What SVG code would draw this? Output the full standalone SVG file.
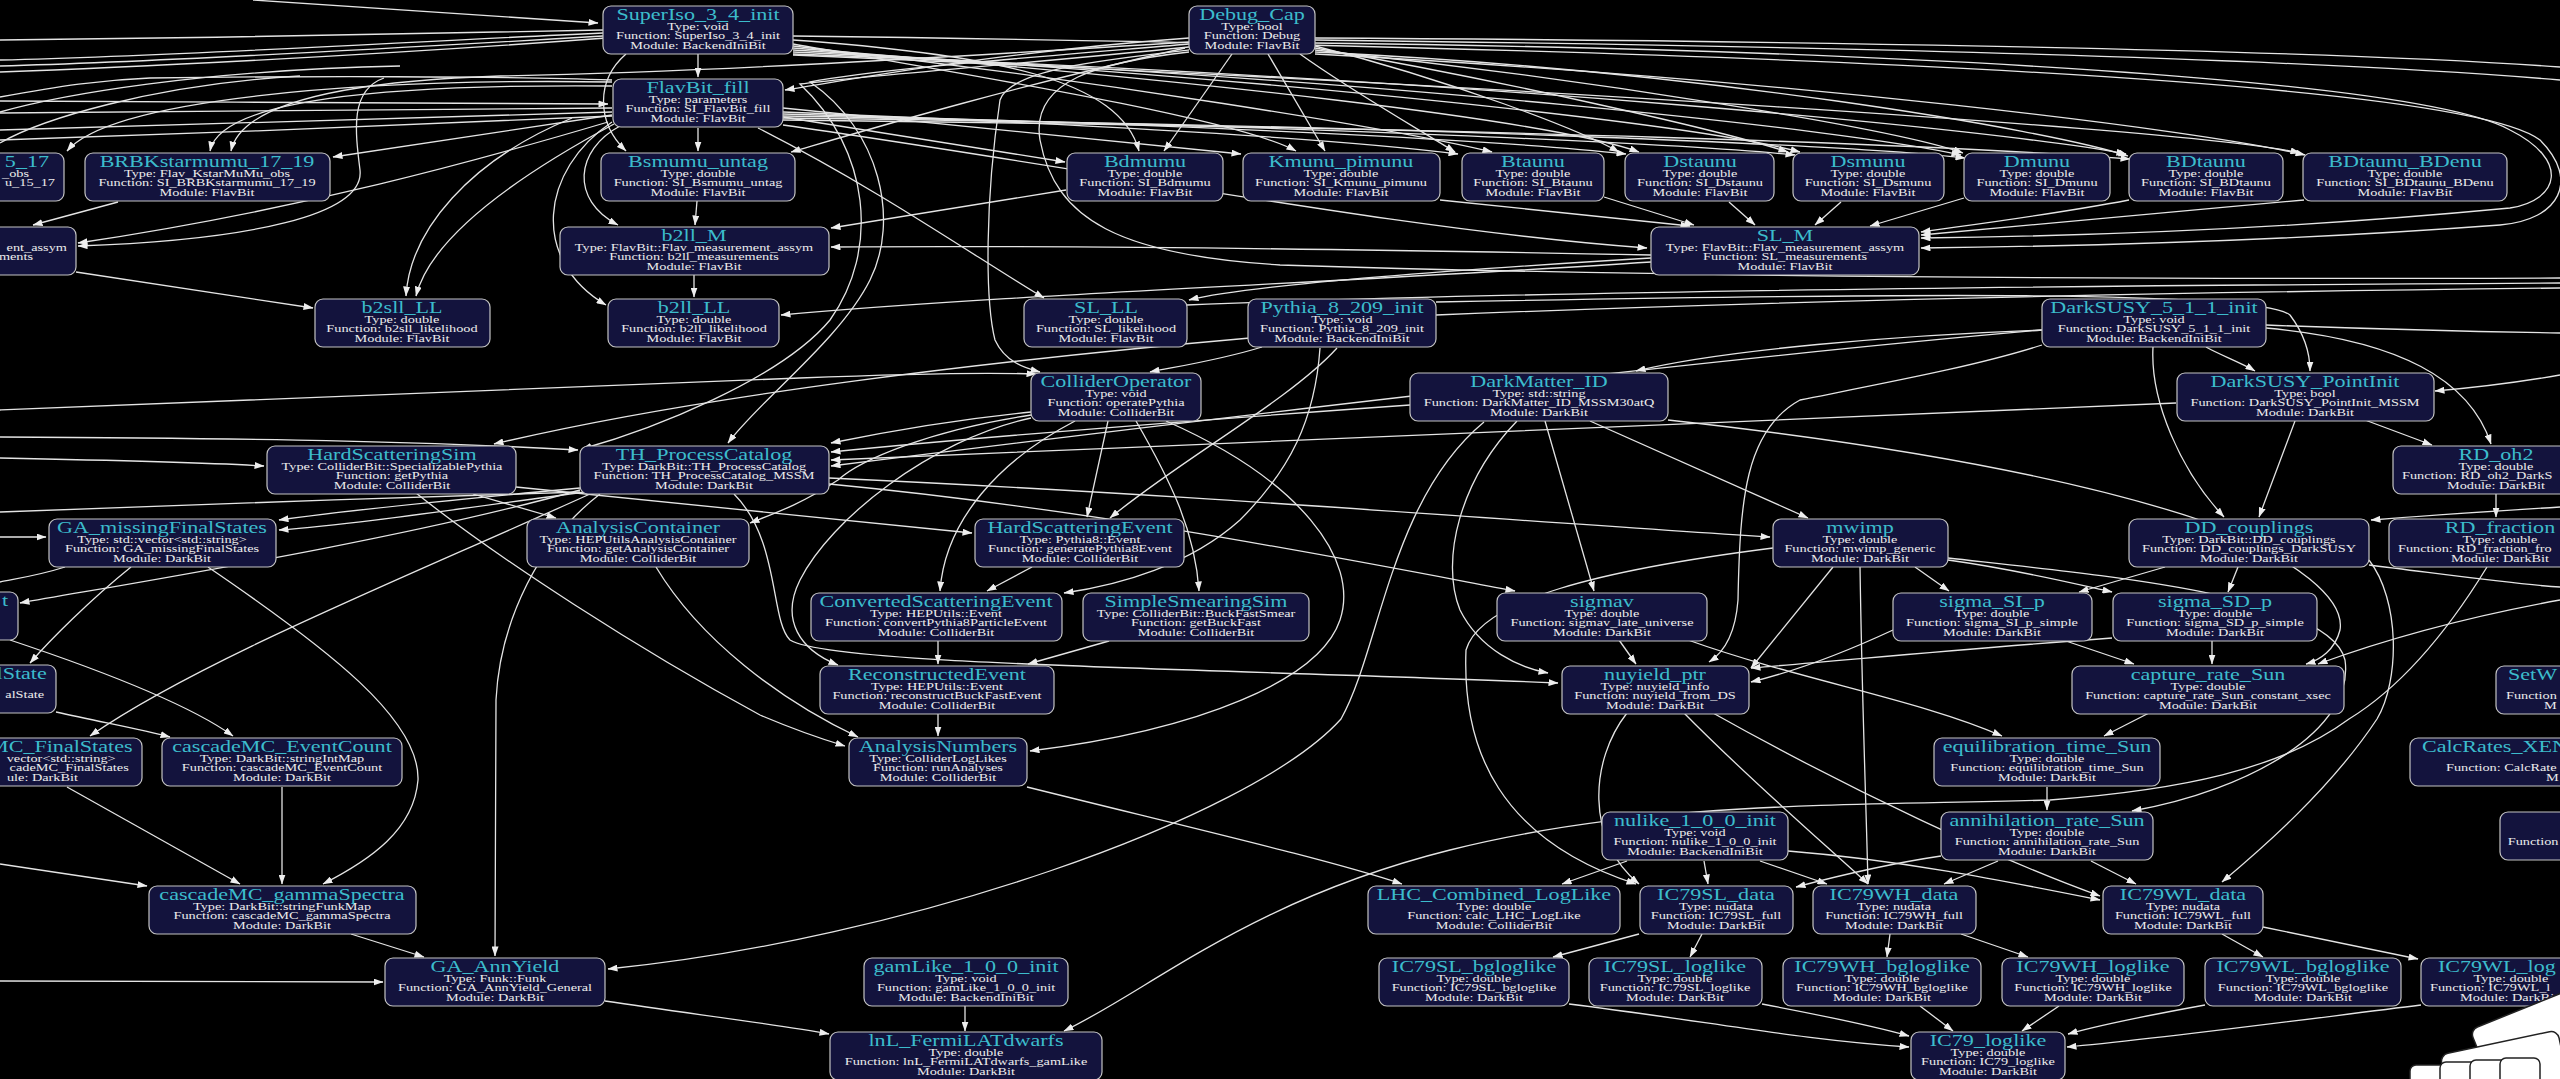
<svg xmlns="http://www.w3.org/2000/svg" width="2560" height="1079" viewBox="0 0 2560 1079">
<defs>
<marker id="a" viewBox="0 0 10 7" refX="9.5" refY="3.5" markerWidth="10" markerHeight="7" markerUnits="userSpaceOnUse" orient="auto"><path d="M0,0L10,3.5L0,7z" fill="#eeeeee"/></marker>
</defs>
<style>
.n rect{fill:#13133d;stroke:#c4c4c4;stroke-width:1.2}
.n text{font-family:"Liberation Serif","Times New Roman",serif;font-size:11px;fill:#ececec;text-anchor:middle}
.n text.t{font-size:17px;fill:#3cbccc}
.n text.s{text-anchor:start}
.n text.d{text-anchor:end}
.e{fill:none;stroke:#e4e4e4;stroke-width:1.3;marker-end:url(#a)}
.l{fill:none;stroke:#e4e4e4;stroke-width:1.3}
</style>
<rect width="2560" height="1079" fill="#000"/>
<g id="edges">
<path class="e" d="M253,0 L598,23"/>
<path class="l" d="M603,30 C420,34 200,38 0,40"/>
<path class="l" d="M603,33 C400,42 200,55 0,60"/>
<path class="l" d="M603,36 C400,48 150,62 0,66"/>
<path class="l" d="M606,38 C380,55 120,68 0,72"/>
<path class="e" d="M0,101 C200,102 420,103 608,104"/>
<path class="l" d="M612,108 C400,110 200,112 0,113"/>
<path class="l" d="M612,112 C400,118 200,126 0,130"/>
<path class="l" d="M612,116 C420,124 200,134 0,140"/>
<path class="e" d="M612,82 C350,78 110,100 67,151"/>
<path class="e" d="M612,86 C380,84 220,100 210,151"/>
<path class="e" d="M1189,42 C900,60 700,72 500,76 C320,82 240,110 231,151"/>
<path class="l" d="M0,97 C60,86 100,80 150,78 C300,76 500,76 612,80"/>
<path class="l" d="M300,76 C150,85 40,120 0,143"/>
<path class="l" d="M400,66 C200,70 60,95 0,112"/>
<path class="e" d="M612,115 L333,157"/>
<path class="e" d="M118,202 L33,225"/>
<path class="e" d="M608,122 C480,160 300,210 78,243"/>
<path class="e" d="M384,78 C350,90 355,130 360,170 C365,215 250,240 78,246"/>
<path class="e" d="M76,272 L313,308"/>
<path class="e" d="M572,118 C470,160 410,230 406,296"/>
<path class="e" d="M614,124 C510,180 430,240 416,296"/>
<path class="e" d="M626,54 C596,80 596,122 626,151"/>
<path class="e" d="M620,126 C575,150 570,200 618,225"/>
<path class="e" d="M612,122 C540,170 530,260 606,305"/>
<path class="e" d="M698,54 L698,77"/>
<path class="e" d="M698,128 L698,151"/>
<path class="e" d="M697,201 L695,225"/>
<path class="e" d="M694,274 L694,297"/>
<path class="e" d="M1189,38 C1000,52 860,78 785,90"/>
<path class="e" d="M1185,48 C1000,90 860,132 791,152"/>
<path class="e" d="M1232,54 L1164,151"/>
<path class="e" d="M793,40 C1000,55 1120,80 1139,151"/>
<path class="e" d="M783,117 L1065,162"/>
<path class="e" d="M783,108 L1241,154"/>
<path class="e" d="M1268,54 L1325,151"/>
<path class="e" d="M793,44 C1000,80 1240,120 1296,151"/>
<path class="e" d="M793,46 C1100,80 1400,130 1492,152"/>
<path class="e" d="M1300,54 C1350,90 1420,130 1455,152"/>
<path class="e" d="M783,112 C1100,125 1350,140 1458,154"/>
<path class="e" d="M793,48 C1200,80 1550,120 1639,152"/>
<path class="e" d="M1315,46 C1450,80 1580,130 1619,152"/>
<path class="e" d="M783,114 C1200,125 1500,140 1626,154"/>
<path class="e" d="M793,50 C1300,80 1700,125 1800,152"/>
<path class="e" d="M1315,48 C1500,80 1720,130 1788,152"/>
<path class="e" d="M783,116 C1300,125 1700,145 1795,155"/>
<path class="e" d="M793,52 C1400,80 1850,130 1961,155"/>
<path class="e" d="M1315,50 C1600,80 1900,130 1963,153"/>
<path class="e" d="M783,118 C1400,125 1850,145 1965,158"/>
<path class="e" d="M793,54 C1500,80 2000,130 2126,154"/>
<path class="e" d="M1315,52 C1700,70 2050,130 2128,156"/>
<path class="e" d="M783,120 C1500,128 1950,145 2130,159"/>
<path class="e" d="M793,55 C1500,85 2200,130 2300,153"/>
<path class="e" d="M1315,54 C1800,80 2200,130 2305,155"/>
<path class="l" d="M1315,38 C1700,40 2300,48 2560,67"/>
<path class="l" d="M1315,40 C1800,46 2300,58 2560,80"/>
<path class="e" d="M1315,43 C1900,50 2420,80 2510,130 C2570,160 2560,200 2510,208 C2300,228 2100,236 1921,238"/>
<path class="e" d="M793,36 C1500,45 2450,70 2540,140 C2580,180 2560,220 2500,225 C2300,240 2100,246 1921,248"/>
<path class="e" d="M1440,200 L1690,226"/>
<path class="e" d="M1604,197 L1694,225"/>
<path class="e" d="M1729,202 L1755,225"/>
<path class="e" d="M1841,202 L1815,225"/>
<path class="e" d="M1964,198 L1870,226"/>
<path class="e" d="M2129,200 C2050,215 1970,225 1921,232"/>
<path class="e" d="M2304,200 C2150,215 2000,228 1921,235"/>
<path class="e" d="M783,125 C1100,170 1400,230 1647,248"/>
<path class="e" d="M1651,258 C1450,270 1250,285 1189,300"/>
<path class="e" d="M1651,255 C1400,250 1100,245 831,247"/>
<path class="e" d="M1066,190 L831,228"/>
<path class="e" d="M1651,262 C1350,282 1000,295 781,315"/>
<path class="e" d="M758,128 C880,190 980,260 1044,298"/>
<path class="e" d="M1189,44 C1000,60 870,70 810,82 C880,130 900,220 870,280 C840,340 760,400 728,443"/>
<path class="e" d="M1189,47 C1000,66 860,76 800,84 C870,150 880,250 830,320 C780,380 650,430 582,449"/>
<path class="e" d="M1189,50 C1100,60 1010,70 1000,100 C985,200 985,300 995,340 C1005,362 1025,368 1040,372"/>
<path class="l" d="M1189,52 C1100,62 1030,80 1040,140 C1055,220 1120,255 1280,265 C1600,275 2000,280 2560,278"/>
<path class="l" d="M1436,315 C1800,300 2200,292 2560,288"/>
<path class="l" d="M1187,305 C1500,292 2000,286 2560,283"/>
<path class="e" d="M1262,347 C1220,360 1180,366 1150,372"/>
<path class="e" d="M1250,338 C1000,360 700,395 494,444"/>
<path class="e" d="M1337,348 C1290,400 1180,460 1110,518"/>
<path class="e" d="M1320,348 C1315,420 1290,470 1240,520 C1190,565 1120,585 1064,593"/>
<path class="e" d="M0,410 C300,400 600,386 800,378 C900,374 980,372 1036,374"/>
<path class="e" d="M1108,421 L1087,517"/>
<path class="e" d="M1136,421 C1170,480 1195,530 1199,591"/>
<path class="e" d="M1075,421 C1000,460 945,520 940,591"/>
<path class="e" d="M1031,415 C930,430 860,460 838,480 C800,505 770,515 750,523"/>
<path class="e" d="M1031,418 C930,440 830,520 800,580 C780,620 800,650 838,665"/>
<path class="e" d="M1166,421 C1300,480 1360,560 1340,620 C1320,680 1200,730 1030,751"/>
<path class="e" d="M1031,412 C950,420 870,435 831,443"/>
<path class="e" d="M1032,567 L987,591"/>
<path class="e" d="M938,640 L938,664"/>
<path class="e" d="M1109,641 L1028,664"/>
<path class="e" d="M938,713 L938,736"/>
<path class="e" d="M656,567 C700,640 780,700 858,737"/>
<path class="e" d="M416,493 C500,560 640,650 760,715 C800,732 825,740 845,746"/>
<path class="e" d="M473,494 L556,518"/>
<path class="e" d="M516,487 C700,505 850,522 972,533"/>
<path class="e" d="M0,458 C100,460 200,462 264,466"/>
<path class="e" d="M0,437 C200,438 400,440 578,450"/>
<path class="e" d="M1410,405 C1200,420 1000,435 831,452"/>
<path class="e" d="M2176,403 C1800,420 1300,440 831,460"/>
<path class="e" d="M2042,330 C1700,360 1200,420 831,466"/>
<path class="e" d="M829,478 C1200,495 1500,520 1770,537"/>
<path class="e" d="M829,484 C1100,510 1350,560 1515,591"/>
<path class="e" d="M734,494 C780,540 770,620 790,640 C830,665 1200,668 1558,683"/>
<path class="e" d="M600,494 C540,540 500,620 496,700 L495,956"/>
<path class="e" d="M580,488 C450,500 350,510 279,520"/>
<path class="e" d="M585,492 C450,510 350,525 279,530"/>
<path class="e" d="M580,490 C400,540 150,580 20,603"/>
<path class="l" d="M580,492 C400,498 150,505 0,512"/>
<path class="e" d="M590,494 C400,580 200,660 90,736"/>
<path class="l" d="M65,567 C40,575 20,578 0,582"/>
<path class="e" d="M131,567 C90,600 50,640 30,663"/>
<path class="e" d="M208,567 C330,650 420,720 418,780 C414,830 370,860 323,884"/>
<path class="e" d="M0,537 L46,537"/>
<path class="e" d="M10,640 C100,670 190,705 233,736"/>
<path class="e" d="M56,712 C100,722 140,729 170,737"/>
<path class="e" d="M67,787 L240,884"/>
<path class="e" d="M282,787 L282,884"/>
<path class="e" d="M0,864 L147,886"/>
<path class="e" d="M351,934 L424,957"/>
<path class="e" d="M0,981 C150,981 300,982 383,982"/>
<path class="e" d="M605,1001 C700,1015 780,1025 829,1034"/>
<path class="e" d="M965,1006 L965,1031"/>
<path class="e" d="M1484,422 C1390,500 1380,650 1341,719 C1250,820 900,940 608,969"/>
<path class="e" d="M2487,567 C2430,660 2380,700 2349,719 C2280,770 2180,790 2050,800 C1850,806 1650,800 1450,850 C1250,900 1150,990 1064,1031"/>
<path class="e" d="M2042,330 C1900,335 1720,350 1636,371"/>
<path class="e" d="M2206,347 C2220,355 2240,362 2255,371"/>
<path class="e" d="M2153,347 C2150,400 2180,470 2224,517"/>
<path class="e" d="M2266,328 C2400,340 2470,380 2491,444"/>
<path class="l" d="M2266,325 C2400,330 2500,332 2560,333"/>
<path class="e" d="M2042,345 C1980,365 1900,380 1800,400 C1745,430 1740,500 1738,600 C1735,640 1720,655 1709,662"/>
<path class="e" d="M1436,302 C1900,293 2260,290 2290,315 C2305,335 2310,355 2310,371"/>
<path class="e" d="M2560,375 C2520,382 2470,388 2435,391"/>
<path class="e" d="M2295,421 L2259,517"/>
<path class="e" d="M2365,420 L2432,445"/>
<path class="e" d="M2496,494 L2496,517"/>
<path class="e" d="M2560,507 C2480,512 2420,516 2371,520"/>
<path class="e" d="M2165,567 L2079,592"/>
<path class="e" d="M2238,567 L2228,592"/>
<path class="e" d="M1545,421 L1594,591"/>
<path class="e" d="M1590,421 L1808,518"/>
<path class="e" d="M1517,421 C1460,480 1440,560 1460,610 C1480,650 1520,668 1548,673"/>
<path class="e" d="M1668,420 C1850,440 2050,470 2200,520 C2300,560 2345,600 2340,630 C2335,650 2320,660 2306,664"/>
<path class="e" d="M1833,567 L1751,668"/>
<path class="e" d="M1915,567 L1949,591"/>
<path class="e" d="M1948,560 C2020,570 2080,585 2112,592"/>
<path class="e" d="M1860,567 C1862,700 1866,800 1868,884"/>
<path class="e" d="M1773,548 C1600,570 1480,600 1466,650 C1462,750 1500,840 1636,884"/>
<path class="e" d="M1948,558 C2100,575 2330,595 2345,660 C2355,730 2250,790 2132,811"/>
<path class="e" d="M1619,640 L1636,664"/>
<path class="e" d="M1688,640 C1800,680 1920,700 2002,736"/>
<path class="e" d="M2063,640 L2134,664"/>
<path class="e" d="M2212,640 L2212,664"/>
<path class="e" d="M2112,638 C1950,650 1850,660 1751,668"/>
<path class="e" d="M1893,630 C1850,650 1800,670 1751,682"/>
<path class="e" d="M2149,713 L2104,736"/>
<path class="e" d="M2047,787 L2047,810"/>
<path class="e" d="M1627,713 C1590,760 1585,840 1639,884"/>
<path class="e" d="M1684,713 C1750,780 1820,840 1868,884"/>
<path class="e" d="M1713,713 C1850,790 2000,860 2100,896"/>
<path class="e" d="M1704,861 L1708,884"/>
<path class="e" d="M1760,861 L1827,884"/>
<path class="e" d="M1788,851 C1900,860 2000,880 2100,900"/>
<path class="e" d="M1627,861 L1562,884"/>
<path class="e" d="M1027,787 C1200,830 1330,860 1402,884"/>
<path class="e" d="M1941,856 C1880,865 1830,878 1796,887"/>
<path class="e" d="M1998,861 L1944,884"/>
<path class="e" d="M2091,861 L2136,884"/>
<path class="e" d="M2369,560 C2400,600 2400,680 2377,719 C2330,790 2260,850 2222,882"/>
<path class="e" d="M2560,600 C2450,620 2370,645 2318,664"/>
<path class="l" d="M2369,565 C2450,575 2520,585 2560,587"/>
<path class="e" d="M1639,934 L1553,957"/>
<path class="e" d="M1702,934 L1690,957"/>
<path class="e" d="M1890,934 L1887,957"/>
<path class="e" d="M1961,934 L2028,957"/>
<path class="e" d="M2222,934 L2263,957"/>
<path class="e" d="M2263,927 L2418,959"/>
<path class="e" d="M1569,1004 C1700,1020 1800,1040 1909,1047"/>
<path class="e" d="M1762,1004 C1820,1015 1870,1025 1909,1036"/>
<path class="e" d="M1920,1006 L1953,1031"/>
<path class="e" d="M2059,1006 L2022,1031"/>
<path class="e" d="M2205,1005 C2150,1015 2100,1025 2068,1034"/>
<path class="e" d="M2421,1005 C2300,1020 2150,1040 2067,1047"/>
</g>

<g id="n_BRBK15" class="n" transform="translate(0,153)"><rect x="-181" width="245" height="48" rx="8"/><g transform="scale(1.3,1)"><text class="t d" x="37.7" y="14">5_17</text><text class="d" x="22.3" y="24">_obs</text><text class="d" x="42.3" y="33.5">u_15_17</text></g></g>
<g id="n_b2sllM" class="n" transform="translate(0,227)"><rect x="-190" width="266" height="48" rx="8"/><g transform="scale(1.3,1)"><text class="d" x="51.5" y="24">ent_assym</text><text class="d" x="25.4" y="33.5">ments</text></g></g>
<g id="n_cMCLoop" class="n" transform="translate(0,592)"><rect x="-200" width="218" height="48" rx="8"/><g transform="scale(1.3,1)"><text class="t d" x="6.2" y="14">t</text></g></g>
<g id="n_cMCInit" class="n" transform="translate(0,665)"><rect x="-160" width="216" height="48" rx="8"/><g transform="scale(1.3,1)"><text class="t d" x="36" y="14">lState</text><text class="d" x="34" y="33.5">alState</text></g></g>
<g id="n_cMCFinal" class="n" transform="translate(0,738)"><rect x="-100" width="242" height="48" rx="8"/><g transform="scale(1.3,1)"><text class="t d" x="102" y="14">MC_FinalStates</text><text class="d" x="89" y="24">vector&lt;std::string&gt;</text><text class="d" x="99" y="33.5">cadeMC_FinalStates</text><text class="d" x="60" y="43">ule: DarkBit</text></g></g>
<g id="n_SetW" class="n" transform="translate(0,666)"><rect x="2496" width="200" height="48" rx="8"/><g transform="scale(1.3,1)"><text class="t s" x="1929.2" y="14">SetW</text><text class="s" x="1927.7" y="33.5">Function</text><text class="s" x="1957" y="43">M</text></g></g>
<g id="n_CalcRates" class="n" transform="translate(0,738)"><rect x="2410" width="250" height="48" rx="8"/><g transform="scale(1.3,1)"><text class="t s" x="1863" y="14">CalcRates_XEN</text><text class="s" x="1881.5" y="33.5">Function: CalcRate</text><text class="s" x="1958.5" y="43">M</text></g></g>
<g id="n_partial" class="n" transform="translate(0,812)"><rect x="2500" width="200" height="48" rx="8"/><g transform="scale(1.3,1)"><text class="s" x="1929" y="33.5">Function</text></g></g>

<g id="n_SuperIso" class="n" transform="translate(698,6)"><rect x="-95" width="190" height="48" rx="8"/><g transform="scale(1.3,1)"><text class="t" y="14">SuperIso_3_4_init</text><text y="24">Type: void</text><text y="33.5">Function: SuperIso_3_4_init</text><text y="43">Module: BackendIniBit</text></g></g>
<g id="n_Debug" class="n" transform="translate(1252,6)"><rect x="-63" width="126" height="48" rx="8"/><g transform="scale(1.3,1)"><text class="t" y="14">Debug_Cap</text><text y="24">Type: bool</text><text y="33.5">Function: Debug</text><text y="43">Module: FlavBit</text></g></g>
<g id="n_FlavBitFill" class="n" transform="translate(698,79)"><rect x="-85" width="170" height="48" rx="8"/><g transform="scale(1.3,1)"><text class="t" y="14">FlavBit_fill</text><text y="24">Type: parameters</text><text y="33.5">Function: SI_FlavBit_fill</text><text y="43">Module: FlavBit</text></g></g>
<g id="n_BRBK1719" class="n" transform="translate(207,153)"><rect x="-122" width="245" height="48" rx="8"/><g transform="scale(1.3,1)"><text class="t" y="14">BRBKstarmumu_17_19</text><text y="24">Type: Flav_KstarMuMu_obs</text><text y="33.5">Function: SI_BRBKstarmumu_17_19</text><text y="43">Module: FlavBit</text></g></g>
<g id="n_Bsmumu" class="n" transform="translate(698,153)"><rect x="-97" width="194" height="48" rx="8"/><g transform="scale(1.3,1)"><text class="t" y="14">Bsmumu_untag</text><text y="24">Type: double</text><text y="33.5">Function: SI_Bsmumu_untag</text><text y="43">Module: FlavBit</text></g></g>
<g id="n_Bdmumu" class="n" transform="translate(1145,153)"><rect x="-78" width="156" height="48" rx="8"/><g transform="scale(1.3,1)"><text class="t" y="14">Bdmumu</text><text y="24">Type: double</text><text y="33.5">Function: SI_Bdmumu</text><text y="43">Module: FlavBit</text></g></g>
<g id="n_Kmunu" class="n" transform="translate(1341,153)"><rect x="-98" width="197" height="48" rx="8"/><g transform="scale(1.3,1)"><text class="t" y="14">Kmunu_pimunu</text><text y="24">Type: double</text><text y="33.5">Function: SI_Kmunu_pimunu</text><text y="43">Module: FlavBit</text></g></g>
<g id="n_Btaunu" class="n" transform="translate(1533,153)"><rect x="-71" width="142" height="48" rx="8"/><g transform="scale(1.3,1)"><text class="t" y="14">Btaunu</text><text y="24">Type: double</text><text y="33.5">Function: SI_Btaunu</text><text y="43">Module: FlavBit</text></g></g>
<g id="n_Dstaunu" class="n" transform="translate(1700,153)"><rect x="-75" width="149" height="48" rx="8"/><g transform="scale(1.3,1)"><text class="t" y="14">Dstaunu</text><text y="24">Type: double</text><text y="33.5">Function: SI_Dstaunu</text><text y="43">Module: FlavBit</text></g></g>
<g id="n_Dsmunu" class="n" transform="translate(1868,153)"><rect x="-75" width="151" height="48" rx="8"/><g transform="scale(1.3,1)"><text class="t" y="14">Dsmunu</text><text y="24">Type: double</text><text y="33.5">Function: SI_Dsmunu</text><text y="43">Module: FlavBit</text></g></g>
<g id="n_Dmunu" class="n" transform="translate(2037,153)"><rect x="-73" width="146" height="48" rx="8"/><g transform="scale(1.3,1)"><text class="t" y="14">Dmunu</text><text y="24">Type: double</text><text y="33.5">Function: SI_Dmunu</text><text y="43">Module: FlavBit</text></g></g>
<g id="n_BDtaunu" class="n" transform="translate(2206,153)"><rect x="-77" width="154" height="48" rx="8"/><g transform="scale(1.3,1)"><text class="t" y="14">BDtaunu</text><text y="24">Type: double</text><text y="33.5">Function: SI_BDtaunu</text><text y="43">Module: FlavBit</text></g></g>
<g id="n_BDtaunuBDenu" class="n" transform="translate(2405,153)"><rect x="-102" width="204" height="48" rx="8"/><g transform="scale(1.3,1)"><text class="t" y="14">BDtaunu_BDenu</text><text y="24">Type: double</text><text y="33.5">Function: SI_BDtaunu_BDenu</text><text y="43">Module: FlavBit</text></g></g>
<g id="n_b2llM" class="n" transform="translate(694,227)"><rect x="-134" width="269" height="48" rx="8"/><g transform="scale(1.3,1)"><text class="t" y="14">b2ll_M</text><text y="24">Type: FlavBit::Flav_measurement_assym</text><text y="33.5">Function: b2ll_measurements</text><text y="43">Module: FlavBit</text></g></g>
<g id="n_SLM" class="n" transform="translate(1785,227)"><rect x="-134" width="268" height="48" rx="8"/><g transform="scale(1.3,1)"><text class="t" y="14">SL_M</text><text y="24">Type: FlavBit::Flav_measurement_assym</text><text y="33.5">Function: SL_measurements</text><text y="43">Module: FlavBit</text></g></g>
<g id="n_b2sllLL" class="n" transform="translate(402,299)"><rect x="-87" width="175" height="48" rx="8"/><g transform="scale(1.3,1)"><text class="t" y="14">b2sll_LL</text><text y="24">Type: double</text><text y="33.5">Function: b2sll_likelihood</text><text y="43">Module: FlavBit</text></g></g>
<g id="n_b2llLL" class="n" transform="translate(694,299)"><rect x="-86" width="171" height="48" rx="8"/><g transform="scale(1.3,1)"><text class="t" y="14">b2ll_LL</text><text y="24">Type: double</text><text y="33.5">Function: b2ll_likelihood</text><text y="43">Module: FlavBit</text></g></g>
<g id="n_SLLL" class="n" transform="translate(1106,299)"><rect x="-82" width="163" height="48" rx="8"/><g transform="scale(1.3,1)"><text class="t" y="14">SL_LL</text><text y="24">Type: double</text><text y="33.5">Function: SL_likelihood</text><text y="43">Module: FlavBit</text></g></g>
<g id="n_Pythia" class="n" transform="translate(1342,299)"><rect x="-94" width="188" height="48" rx="8"/><g transform="scale(1.3,1)"><text class="t" y="14">Pythia_8_209_init</text><text y="24">Type: void</text><text y="33.5">Function: Pythia_8_209_init</text><text y="43">Module: BackendIniBit</text></g></g>
<g id="n_DarkSUSYinit" class="n" transform="translate(2154,299)"><rect x="-112" width="224" height="48" rx="8"/><g transform="scale(1.3,1)"><text class="t" y="14">DarkSUSY_5_1_1_init</text><text y="24">Type: void</text><text y="33.5">Function: DarkSUSY_5_1_1_init</text><text y="43">Module: BackendIniBit</text></g></g>
<g id="n_ColliderOperator" class="n" transform="translate(1116,373)"><rect x="-85" width="170" height="48" rx="8"/><g transform="scale(1.3,1)"><text class="t" y="14">ColliderOperator</text><text y="24">Type: void</text><text y="33.5">Function: operatePythia</text><text y="43">Module: ColliderBit</text></g></g>
<g id="n_DarkMatterID" class="n" transform="translate(1539,373)"><rect x="-129" width="258" height="48" rx="8"/><g transform="scale(1.3,1)"><text class="t" y="14">DarkMatter_ID</text><text y="24">Type: std::string</text><text y="33.5">Function: DarkMatter_ID_MSSM30atQ</text><text y="43">Module: DarkBit</text></g></g>
<g id="n_DarkSUSYPointInit" class="n" transform="translate(2305,373)"><rect x="-128" width="257" height="48" rx="8"/><g transform="scale(1.3,1)"><text class="t" y="14">DarkSUSY_PointInit</text><text y="24">Type: bool</text><text y="33.5">Function: DarkSUSY_PointInit_MSSM</text><text y="43">Module: DarkBit</text></g></g>
<g id="n_HardScatteringSim" class="n" transform="translate(392,446)"><rect x="-125" width="249" height="48" rx="8"/><g transform="scale(1.3,1)"><text class="t" y="14">HardScatteringSim</text><text y="24">Type: ColliderBit::SpecializablePythia</text><text y="33.5">Function: getPythia</text><text y="43">Module: ColliderBit</text></g></g>
<g id="n_THProcessCatalog" class="n" transform="translate(704,446)"><rect x="-124" width="249" height="48" rx="8"/><g transform="scale(1.3,1)"><text class="t" y="14">TH_ProcessCatalog</text><text y="24">Type: DarkBit::TH_ProcessCatalog</text><text y="33.5">Function: TH_ProcessCatalog_MSSM</text><text y="43">Module: DarkBit</text></g></g>
<g id="n_RDoh2" class="n" transform="translate(2496,446)"><rect x="-103" width="206" height="48" rx="8"/><g transform="scale(1.3,1)"><text class="t" y="14">RD_oh2</text><text y="24">Type: double</text><text class="s" x="-72.3" y="33.5">Function: RD_oh2_DarkS</text><text y="43">Module: DarkBit</text></g></g>
<g id="n_GAmissing" class="n" transform="translate(162,519)"><rect x="-113" width="227" height="48" rx="8"/><g transform="scale(1.3,1)"><text class="t" y="14">GA_missingFinalStates</text><text y="24">Type: std::vector&lt;std::string&gt;</text><text y="33.5">Function: GA_missingFinalStates</text><text y="43">Module: DarkBit</text></g></g>
<g id="n_AnalysisContainer" class="n" transform="translate(638,519)"><rect x="-111" width="222" height="48" rx="8"/><g transform="scale(1.3,1)"><text class="t" y="14">AnalysisContainer</text><text y="24">Type: HEPUtilsAnalysisContainer</text><text y="33.5">Function: getAnalysisContainer</text><text y="43">Module: ColliderBit</text></g></g>
<g id="n_HardScatteringEvent" class="n" transform="translate(1080,519)"><rect x="-105" width="209" height="48" rx="8"/><g transform="scale(1.3,1)"><text class="t" y="14">HardScatteringEvent</text><text y="24">Type: Pythia8::Event</text><text y="33.5">Function: generatePythia8Event</text><text y="43">Module: ColliderBit</text></g></g>
<g id="n_mwimp" class="n" transform="translate(1860,519)"><rect x="-87" width="175" height="48" rx="8"/><g transform="scale(1.3,1)"><text class="t" y="14">mwimp</text><text y="24">Type: double</text><text y="33.5">Function: mwimp_generic</text><text y="43">Module: DarkBit</text></g></g>
<g id="n_DDcouplings" class="n" transform="translate(2249,519)"><rect x="-120" width="240" height="48" rx="8"/><g transform="scale(1.3,1)"><text class="t" y="14">DD_couplings</text><text y="24">Type: DarkBit::DD_couplings</text><text y="33.5">Function: DD_couplings_DarkSUSY</text><text y="43">Module: DarkBit</text></g></g>
<g id="n_RDfraction" class="n" transform="translate(2500,519)"><rect x="-111" width="222" height="48" rx="8"/><g transform="scale(1.3,1)"><text class="t" y="14">RD_fraction</text><text y="24">Type: double</text><text class="s" x="-78.5" y="33.5">Function: RD_fraction_fro</text><text y="43">Module: DarkBit</text></g></g>
<g id="n_ConvertedScatteringEvent" class="n" transform="translate(936,593)"><rect x="-125" width="251" height="48" rx="8"/><g transform="scale(1.3,1)"><text class="t" y="14">ConvertedScatteringEvent</text><text y="24">Type: HEPUtils::Event</text><text y="33.5">Function: convertPythia8ParticleEvent</text><text y="43">Module: ColliderBit</text></g></g>
<g id="n_SimpleSmearingSim" class="n" transform="translate(1196,593)"><rect x="-113" width="226" height="48" rx="8"/><g transform="scale(1.3,1)"><text class="t" y="14">SimpleSmearingSim</text><text y="24">Type: ColliderBit::BuckFastSmear</text><text y="33.5">Function: getBuckFast</text><text y="43">Module: ColliderBit</text></g></g>
<g id="n_sigmav" class="n" transform="translate(1602,593)"><rect x="-105" width="210" height="48" rx="8"/><g transform="scale(1.3,1)"><text class="t" y="14">sigmav</text><text y="24">Type: double</text><text y="33.5">Function: sigmav_late_universe</text><text y="43">Module: DarkBit</text></g></g>
<g id="n_sigmaSIp" class="n" transform="translate(1992,593)"><rect x="-99" width="199" height="48" rx="8"/><g transform="scale(1.3,1)"><text class="t" y="14">sigma_SI_p</text><text y="24">Type: double</text><text y="33.5">Function: sigma_SI_p_simple</text><text y="43">Module: DarkBit</text></g></g>
<g id="n_sigmaSDp" class="n" transform="translate(2215,593)"><rect x="-102" width="204" height="48" rx="8"/><g transform="scale(1.3,1)"><text class="t" y="14">sigma_SD_p</text><text y="24">Type: double</text><text y="33.5">Function: sigma_SD_p_simple</text><text y="43">Module: DarkBit</text></g></g>
<g id="n_ReconstructedEvent" class="n" transform="translate(937,666)"><rect x="-117" width="234" height="48" rx="8"/><g transform="scale(1.3,1)"><text class="t" y="14">ReconstructedEvent</text><text y="24">Type: HEPUtils::Event</text><text y="33.5">Function: reconstructBuckFastEvent</text><text y="43">Module: ColliderBit</text></g></g>
<g id="n_nuyield" class="n" transform="translate(1655,666)"><rect x="-93" width="187" height="48" rx="8"/><g transform="scale(1.3,1)"><text class="t" y="14">nuyield_ptr</text><text y="24">Type: nuyield_info</text><text y="33.5">Function: nuyield_from_DS</text><text y="43">Module: DarkBit</text></g></g>
<g id="n_captureRate" class="n" transform="translate(2208,666)"><rect x="-136" width="272" height="48" rx="8"/><g transform="scale(1.3,1)"><text class="t" y="14">capture_rate_Sun</text><text y="24">Type: double</text><text y="33.5">Function: capture_rate_Sun_constant_xsec</text><text y="43">Module: DarkBit</text></g></g>
<g id="n_cMCEventCount" class="n" transform="translate(282,738)"><rect x="-120" width="240" height="48" rx="8"/><g transform="scale(1.3,1)"><text class="t" y="14">cascadeMC_EventCount</text><text y="24">Type: DarkBit::stringIntMap</text><text y="33.5">Function: cascadeMC_EventCount</text><text y="43">Module: DarkBit</text></g></g>
<g id="n_AnalysisNumbers" class="n" transform="translate(938,738)"><rect x="-89" width="178" height="48" rx="8"/><g transform="scale(1.3,1)"><text class="t" y="14">AnalysisNumbers</text><text y="24">Type: ColliderLogLikes</text><text y="33.5">Function: runAnalyses</text><text y="43">Module: ColliderBit</text></g></g>
<g id="n_equilibration" class="n" transform="translate(2047,738)"><rect x="-113" width="226" height="48" rx="8"/><g transform="scale(1.3,1)"><text class="t" y="14">equilibration_time_Sun</text><text y="24">Type: double</text><text y="33.5">Function: equilibration_time_Sun</text><text y="43">Module: DarkBit</text></g></g>
<g id="n_nulike" class="n" transform="translate(1695,812)"><rect x="-93" width="186" height="48" rx="8"/><g transform="scale(1.3,1)"><text class="t" y="14">nulike_1_0_0_init</text><text y="24">Type: void</text><text y="33.5">Function: nulike_1_0_0_init</text><text y="43">Module: BackendIniBit</text></g></g>
<g id="n_annihilation" class="n" transform="translate(2047,812)"><rect x="-106" width="212" height="48" rx="8"/><g transform="scale(1.3,1)"><text class="t" y="14">annihilation_rate_Sun</text><text y="24">Type: double</text><text y="33.5">Function: annihilation_rate_Sun</text><text y="43">Module: DarkBit</text></g></g>
<g id="n_cMCgamma" class="n" transform="translate(282,886)"><rect x="-133" width="267" height="48" rx="8"/><g transform="scale(1.3,1)"><text class="t" y="14">cascadeMC_gammaSpectra</text><text y="24">Type: DarkBit::stringFunkMap</text><text y="33.5">Function: cascadeMC_gammaSpectra</text><text y="43">Module: DarkBit</text></g></g>
<g id="n_LHC" class="n" transform="translate(1494,886)"><rect x="-126" width="252" height="48" rx="8"/><g transform="scale(1.3,1)"><text class="t" y="14">LHC_Combined_LogLike</text><text y="24">Type: double</text><text y="33.5">Function: calc_LHC_LogLike</text><text y="43">Module: ColliderBit</text></g></g>
<g id="n_IC79SLdata" class="n" transform="translate(1716,886)"><rect x="-76" width="153" height="48" rx="8"/><g transform="scale(1.3,1)"><text class="t" y="14">IC79SL_data</text><text y="24">Type: nudata</text><text y="33.5">Function: IC79SL_full</text><text y="43">Module: DarkBit</text></g></g>
<g id="n_IC79WHdata" class="n" transform="translate(1894,886)"><rect x="-81" width="163" height="48" rx="8"/><g transform="scale(1.3,1)"><text class="t" y="14">IC79WH_data</text><text y="24">Type: nudata</text><text y="33.5">Function: IC79WH_full</text><text y="43">Module: DarkBit</text></g></g>
<g id="n_IC79WLdata" class="n" transform="translate(2183,886)"><rect x="-80" width="160" height="48" rx="8"/><g transform="scale(1.3,1)"><text class="t" y="14">IC79WL_data</text><text y="24">Type: nudata</text><text y="33.5">Function: IC79WL_full</text><text y="43">Module: DarkBit</text></g></g>
<g id="n_GAAnnYield" class="n" transform="translate(495,958)"><rect x="-110" width="220" height="48" rx="8"/><g transform="scale(1.3,1)"><text class="t" y="14">GA_AnnYield</text><text y="24">Type: Funk::Funk</text><text y="33.5">Function: GA_AnnYield_General</text><text y="43">Module: DarkBit</text></g></g>
<g id="n_gamLike" class="n" transform="translate(966,958)"><rect x="-102" width="204" height="48" rx="8"/><g transform="scale(1.3,1)"><text class="t" y="14">gamLike_1_0_0_init</text><text y="24">Type: void</text><text y="33.5">Function: gamLike_1_0_0_init</text><text y="43">Module: BackendIniBit</text></g></g>
<g id="n_IC79SLbg" class="n" transform="translate(1474,958)"><rect x="-95" width="190" height="48" rx="8"/><g transform="scale(1.3,1)"><text class="t" y="14">IC79SL_bgloglike</text><text y="24">Type: double</text><text y="33.5">Function: IC79SL_bgloglike</text><text y="43">Module: DarkBit</text></g></g>
<g id="n_IC79SLll" class="n" transform="translate(1675,958)"><rect x="-86" width="173" height="48" rx="8"/><g transform="scale(1.3,1)"><text class="t" y="14">IC79SL_loglike</text><text y="24">Type: double</text><text y="33.5">Function: IC79SL_loglike</text><text y="43">Module: DarkBit</text></g></g>
<g id="n_IC79WHbg" class="n" transform="translate(1882,958)"><rect x="-99" width="198" height="48" rx="8"/><g transform="scale(1.3,1)"><text class="t" y="14">IC79WH_bgloglike</text><text y="24">Type: double</text><text y="33.5">Function: IC79WH_bgloglike</text><text y="43">Module: DarkBit</text></g></g>
<g id="n_IC79WHll" class="n" transform="translate(2093,958)"><rect x="-91" width="182" height="48" rx="8"/><g transform="scale(1.3,1)"><text class="t" y="14">IC79WH_loglike</text><text y="24">Type: double</text><text y="33.5">Function: IC79WH_loglike</text><text y="43">Module: DarkBit</text></g></g>
<g id="n_IC79WLbg" class="n" transform="translate(2303,958)"><rect x="-98" width="196" height="48" rx="8"/><g transform="scale(1.3,1)"><text class="t" y="14">IC79WL_bgloglike</text><text y="24">Type: double</text><text y="33.5">Function: IC79WL_bgloglike</text><text y="43">Module: DarkBit</text></g></g>
<g id="n_IC79WLll" class="n" transform="translate(2511,958)"><rect x="-90" width="180" height="48" rx="8"/><g transform="scale(1.3,1)"><text class="t s" x="-56.2" y="14">IC79WL_log</text><text y="24">Type: double</text><text class="s" x="-62.3" y="33.5">Function: IC79WL_l</text><text class="s" x="-39.2" y="43">Module: DarkBi</text></g></g>
<g id="n_lnL" class="n" transform="translate(966,1032)"><rect x="-136" width="272" height="48" rx="8"/><g transform="scale(1.3,1)"><text class="t" y="14">lnL_FermiLATdwarfs</text><text y="24">Type: double</text><text y="33.5">Function: lnL_FermiLATdwarfs_gamLike</text><text y="43">Module: DarkBit</text></g></g>
<g id="n_IC79ll" class="n" transform="translate(1988,1032)"><rect x="-77" width="154" height="48" rx="8"/><g transform="scale(1.3,1)"><text class="t" y="14">IC79_loglike</text><text y="24">Type: double</text><text y="33.5">Function: IC79_loglike</text><text y="43">Module: DarkBit</text></g></g>

<g id="logo" fill="#fff" stroke="#222" stroke-width="1.5">
<rect x="2470" y="1030" width="120" height="90" rx="8" transform="rotate(-22 2470 1030)"/>
<rect x="2440" y="1055" width="120" height="90" rx="8" transform="rotate(-12 2440 1055)"/>
<rect x="2410" y="1065" width="40" height="60" rx="6"/>
<rect x="2440" y="1062" width="40" height="60" rx="6"/>
<rect x="2470" y="1060" width="40" height="60" rx="6"/>
<rect x="2500" y="1058" width="40" height="60" rx="6"/>
</g>
</svg>
